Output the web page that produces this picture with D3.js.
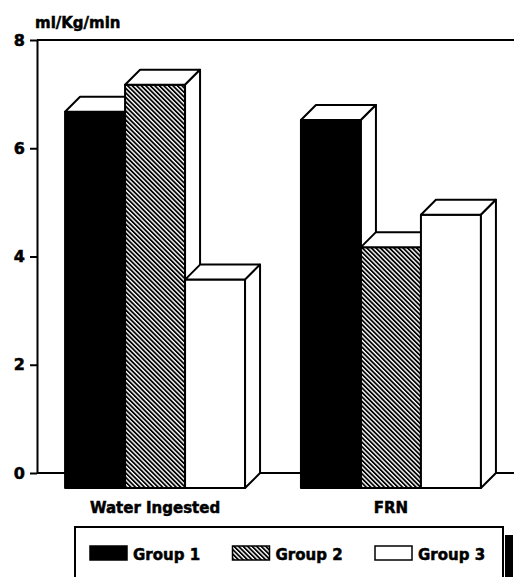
<!DOCTYPE html>
<html lang="en">
<head>
    <meta charset="UTF-8">
    <title>ml/Kg/min by group</title>
    <style>
        body { margin: 0; background: #fff; }
        svg text { font-family: "DejaVu Sans", sans-serif; font-weight: bold; font-size: 15px; fill: #000; stroke: #000; stroke-width: 0.5px; }
        .tick text { font-size: 16px; }
    </style>
    <script src="https://d3js.org/d3.v7.min.js"></script>
</head>
<body>
    <svg width="514" height="577"></svg>
    <script>
        const categories = ["Water Ingested", "FRN"];
        const seriesNames = ["Group 1", "Group 2", "Group 3"];
        const group1 = [6.95, 6.8];
        const group2 = [7.45, 4.45];
        const group3 = [3.85, 5.05];
        const yTicks = [0, 2, 4, 6, 8];

        const seriesValues = [group1, group2, group3];
        const fills = ["#000", "url(#hatch)", "#fff"];

        const svg = d3.select("svg");
        const width = +svg.attr("width");

        // hatch for group 2
        const pat = svg.append("defs").append("pattern")
            .attr("id", "hatch")
            .attr("patternUnits", "userSpaceOnUse")
            .attr("width", 3.2)
            .attr("height", 3.2)
            .attr("patternTransform", "rotate(-45)");
        pat.append("rect").attr("width", 3.2).attr("height", 3.2).attr("fill", "#fff");
        pat.append("line")
            .attr("x1", 0.9).attr("y1", 0).attr("x2", 0.9).attr("y2", 3.2)
            .attr("stroke", "#000").attr("stroke-width", 1.8);

        const plotLeft = 37, plotTop = 40, plotBottom = 473;
        const depthX = 15, depthY = 15;

        const y = d3.scaleLinear().domain([0, 8]).range([plotBottom, plotTop]);
        const x = d3.scaleBand().domain(categories).range([plotLeft, 509])
            .paddingInner(0.237).paddingOuter(0.119);
        const xs = d3.scaleBand().domain(seriesNames).range([0, x.bandwidth()]);

        // back wall lines
        svg.append("line")
            .attr("x1", plotLeft).attr("x2", width).attr("y1", y(8)).attr("y2", y(8))
            .attr("stroke", "#000").attr("stroke-width", 2);
        svg.append("line")
            .attr("x1", plotLeft).attr("x2", width).attr("y1", y(0)).attr("y2", y(0))
            .attr("stroke", "#000").attr("stroke-width", 2);

        const yAxis = svg.append("g")
            .attr("transform", `translate(${plotLeft},0)`)
            .call(d3.axisLeft(y).tickValues(yTicks).tickSize(7).tickSizeOuter(0).tickPadding(5));
        yAxis.attr("font-size", null).attr("font-family", null);
        yAxis.selectAll("path, line").attr("stroke", "#000").attr("stroke-width", 2);

        svg.append("text").attr("x", 35).attr("y", 28).text("ml/Kg/min");

        // 3d bars, drawn left to right so later bars cover earlier side faces
        const bars = [];
        categories.forEach((c, ci) => {
            seriesNames.forEach((s, si) => {
                bars.push({ cat: c, series: s, si: si, value: seriesValues[si][ci] });
            });
        });

        const bar = svg.append("g").selectAll("g")
            .data(bars)
            .enter().append("g")
            .attr("stroke", "#000")
            .attr("stroke-width", 2)
            .attr("stroke-linejoin", "round");

        const fx = d => x(d.cat) + xs(d.series);
        const fy = d => y(d.value) + depthY;
        const fb = y(0) + depthY;
        const w = xs.bandwidth();

        bar.append("rect")
            .attr("x", fx)
            .attr("y", fy)
            .attr("width", w)
            .attr("height", d => fb - fy(d))
            .attr("fill", d => fills[d.si]);

        bar.append("polygon")
            .attr("fill", "#fff")
            .attr("points", d => {
                const x0 = fx(d), y0 = fy(d);
                return [[x0, y0], [x0 + depthX, y0 - depthY], [x0 + w + depthX, y0 - depthY], [x0 + w, y0]].join(" ");
            });

        bar.append("polygon")
            .attr("fill", "#fff")
            .attr("points", d => {
                const x1 = fx(d) + w, y0 = fy(d);
                return [[x1, y0], [x1 + depthX, y0 - depthY], [x1 + depthX, fb - depthY], [x1, fb]].join(" ");
            });

        // category labels
        svg.append("g").selectAll("text")
            .data(categories)
            .enter().append("text")
            .attr("x", d => x(d) + x.bandwidth() / 2)
            .attr("y", 513)
            .attr("text-anchor", "middle")
            .text(d => d);

        // legend
        const legend = svg.append("g");
        legend.append("rect")
            .attr("x", 505).attr("y", 535).attr("width", 8).attr("height", 50)
            .attr("fill", "#000");
        legend.append("rect")
            .attr("x", 75).attr("y", 527).attr("width", 428).attr("height", 60)
            .attr("fill", "#fff").attr("stroke", "#000").attr("stroke-width", 2);

        const lx = d3.scaleLinear().domain([0, 2]).range([90, 375]);
        const item = legend.selectAll("g.item")
            .data(seriesNames)
            .enter().append("g")
            .attr("class", "item")
            .attr("transform", (d, i) => `translate(${lx(i)},546)`);
        item.append("rect")
            .attr("width", 37).attr("height", 14)
            .attr("fill", (d, i) => fills[i])
            .attr("stroke", "#000").attr("stroke-width", 1.5);
        item.append("text")
            .attr("x", 43).attr("y", 14)
            .text(d => d);
    </script>
</body>
</html>
